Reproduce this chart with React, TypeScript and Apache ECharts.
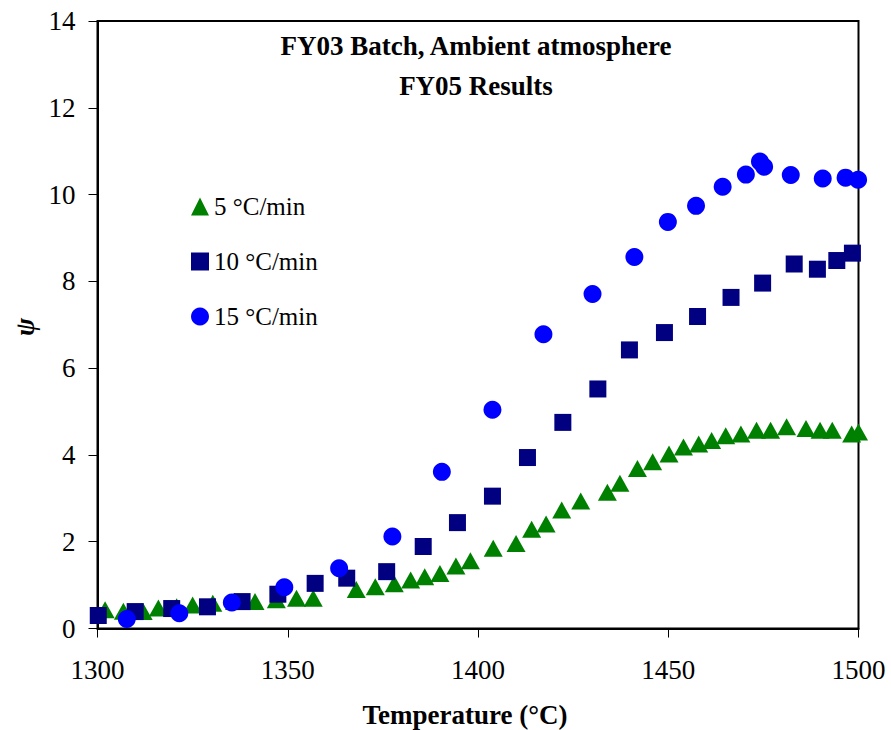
import React, { useEffect, useRef } from "react";
import * as echarts from "echarts";

// Heating rate 5 °C/min
const temp5 = [1302, 1306.8, 1312, 1316, 1320.8, 1325, 1330.3, 1336, 1341.4, 1347, 1352.3, 1356.7, 1368, 1373, 1378, 1382.3, 1386, 1390, 1394.2, 1398, 1404, 1410, 1414.1, 1417.9, 1422, 1427, 1434, 1437.3, 1441.9, 1445.9, 1450.2, 1454, 1458, 1461.4, 1465.1, 1469.1, 1473.2, 1476.9, 1481.1, 1486.2, 1489.9, 1493.1, 1498.2, 1500];
const psi5 = [0.43, 0.4, 0.39, 0.47, 0.5, 0.54, 0.58, 0.62, 0.62, 0.66, 0.7, 0.7, 0.9, 0.96, 1.03, 1.12, 1.19, 1.27, 1.44, 1.56, 1.85, 1.96, 2.29, 2.41, 2.73, 2.94, 3.14, 3.35, 3.69, 3.84, 4.02, 4.18, 4.25, 4.33, 4.44, 4.48, 4.57, 4.57, 4.65, 4.61, 4.57, 4.57, 4.48, 4.53];

// Heating rate 10 °C/min
const temp10 = [1300.2, 1309.9, 1319.5, 1328.9, 1338, 1347.4, 1357.2, 1365.5, 1376, 1385.6, 1394.6, 1403.8, 1413, 1422.3, 1431.5, 1439.8, 1449, 1457.7, 1466.5, 1474.8, 1483.1, 1489.2, 1494.3, 1498.4];
const psi10 = [0.3, 0.39, 0.46, 0.5, 0.62, 0.79, 1.04, 1.16, 1.31, 1.89, 2.44, 3.05, 3.94, 4.75, 5.52, 6.42, 6.82, 7.19, 7.63, 7.96, 8.4, 8.28, 8.48, 8.65];

// Heating rate 15 °C/min
const temp15 = [1307.7, 1321.5, 1335.3, 1349.1, 1363.5, 1377.5, 1390.5, 1403.8, 1417.2, 1430.1, 1441.1, 1449.9, 1457.3, 1464.3, 1470.4, 1474.1, 1475.2, 1482.2, 1490.6, 1496.6, 1499.9];
const psi15 = [0.22, 0.35, 0.6, 0.95, 1.39, 2.12, 3.61, 5.04, 6.78, 7.71, 8.56, 9.37, 9.74, 10.18, 10.46, 10.76, 10.64, 10.45, 10.37, 10.39, 10.34];

const seriesNames = ["5 °C/min", "10 °C/min", "15 °C/min"];
const titleLines = ["FY03 Batch, Ambient atmosphere", "FY05 Results"];
const xTitle = "Temperature (°C)";
const yTitle = "ψ";

const FONT = "Liberation Serif";

const pairs = (xs: number[], ys: number[]) => xs.map((x, i) => [x, ys[i]]);

export default function App() {
  const ref = useRef<HTMLDivElement>(null);

  useEffect(() => {
    if (!ref.current) return;
    const chart = echarts.init(ref.current, null, { renderer: "svg" });
    chart.setOption({
      animation: false,
      backgroundColor: "#ffffff",
      textStyle: { fontFamily: FONT },
      title: {
        text: titleLines.join("\n"),
        left: 471,
        top: 21,
        textAlign: "center",
        textStyle: {
          fontFamily: FONT,
          fontWeight: "bold",
          fontSize: 27,
          lineHeight: 40,
          color: "#000",
        },
      },
      legend: {
        orient: "vertical",
        left: 186,
        top: 189,
        itemWidth: 18,
        itemHeight: 18,
        itemGap: 30,
        textStyle: {
          fontFamily: FONT,
          fontSize: 25,
          color: "#000",
        },
        data: seriesNames,
      },
      grid: {
        left: 97.5,
        top: 21,
        right: 32.5,
        bottom: 101.5,
        show: true,
        borderColor: "#000",
        borderWidth: 2,
        containLabel: false,
      },
      xAxis: {
        type: "value",
        min: 1300,
        max: 1500,
        interval: 50,
        splitLine: { show: false },
        axisLine: { show: true, lineStyle: { color: "#000", width: 2 } },
        axisTick: { show: true, inside: false, length: 9, lineStyle: { color: "#000", width: 1 } },
        axisLabel: {
          margin: 28,
          fontFamily: FONT,
          fontSize: 27,
          color: "#000",
          formatter: (v: number) => String(v),
        },
      },
      yAxis: {
        type: "value",
        min: 0,
        max: 14,
        interval: 2,
        splitLine: { show: false },
        axisLine: { show: true, lineStyle: { color: "#000", width: 2 } },
        axisTick: { show: true, inside: false, length: 9, lineStyle: { color: "#000", width: 1 } },
        axisLabel: {
          margin: 22,
          fontFamily: FONT,
          fontSize: 27,
          color: "#000",
          formatter: (v: number) => String(v),
        },
      },
      graphic: [
        {
          type: "text",
          x: 465,
          y: 715,
          style: {
            text: xTitle,
            fontFamily: FONT,
            fontWeight: "bold",
            fontSize: 27,
            fill: "#000",
            align: "center",
            verticalAlign: "middle",
          },
        },
        {
          type: "text",
          x: 25,
          y: 327,
          rotation: Math.PI / 2,
          style: {
            text: yTitle,
            fontFamily: FONT,
            fontWeight: "bold",
            fontStyle: "italic",
            fontSize: 27,
            fill: "#000",
            align: "center",
            verticalAlign: "middle",
          },
        },
      ],
      series: [
        {
          name: seriesNames[0],
          type: "scatter",
          symbol: "triangle",
          symbolSize: [19, 17],
          clip: false,
          itemStyle: { color: "#008000", opacity: 1 },
          data: pairs(temp5, psi5),
        },
        {
          name: seriesNames[1],
          type: "scatter",
          symbol: "rect",
          symbolSize: 17,
          clip: false,
          itemStyle: { color: "#000080", opacity: 1 },
          data: pairs(temp10, psi10),
        },
        {
          name: seriesNames[2],
          type: "scatter",
          symbol: "circle",
          symbolSize: 18,
          clip: false,
          itemStyle: { color: "#0000ff", opacity: 1 },
          data: pairs(temp15, psi15),
        },
      ],
    });
    return () => chart.dispose();
  }, []);

  return (
    <div
      ref={ref}
      style={{ position: "fixed", left: 0, top: 0, width: 891, height: 730 }}
    />
  );
}
